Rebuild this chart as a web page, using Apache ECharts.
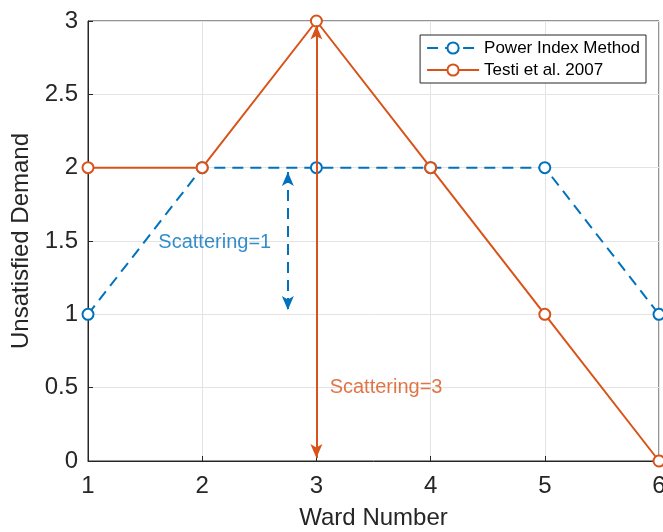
<!DOCTYPE html>
<html><head><meta charset="utf-8">
<script src="https://cdn.jsdelivr.net/npm/echarts@6/dist/echarts.min.js"></script>
<style>html,body{margin:0;padding:0;background:#fff}#c{width:663px;height:532px}</style>
</head><body><div id="c"></div>
<script>
const wards = [1, 2, 3, 4, 5, 6];
const powerIndex = [1, 2, 2, 2, 2, 1];
const testi2007 = [2, 2, 3, 2, 1, 0];
const yTicks = [0, 0.5, 1, 1.5, 2, 2.5, 3];
const arrow1 = [[2.75, 1.97], [2.75, 1.03]];
const arrow3 = [[3, 2.97], [3, 0.02]];
const label1 = {x: 2.11, y: 1.49, text: 'Scattering=1'};
const label3 = {x: 3.61, y: 0.50, text: 'Scattering=3'};

const blue = '#0072BD', orange = '#D95319';
const font = 'Liberation Sans, Arial, sans-serif';
const chart = echarts.init(document.getElementById('c'));
chart.setOption({
  animation: false,
  grid: {left: 88, right: 4, top: 21, bottom: 71, containLabel: false, outerBoundsMode: 'none',
         show: true, borderColor: '#262626', borderWidth: 1},
  legend: {
    right: 17, top: 35, orient: 'vertical', itemWidth: 52, itemHeight: 14, itemGap: 4,
    backgroundColor: '#fff', borderColor: '#262626', borderWidth: 1, padding: [4, 6, 4, 6],
    textStyle: {fontFamily: font, fontSize: 17, color: '#000', lineHeight: 18},
    data: ['Power Index Method', 'Testi et al. 2007']
  },
  xAxis: {
    type: 'value', min: wards[0], max: wards[wards.length - 1], interval: 1,
    name: 'Ward Number', nameLocation: 'middle', nameGap: 45,
    nameTextStyle: {fontFamily: font, fontSize: 24, color: '#262626'},
    axisLine: {show: true, lineStyle: {color: '#262626'}},
    axisTick: {show: true, inside: true, length: 5, lineStyle: {color: '#262626'}},
    axisLabel: {fontFamily: font, fontSize: 24, color: '#262626', margin: 13},
    splitLine: {show: true, lineStyle: {color: '#e3e3e3'}}
  },
  yAxis: {
    type: 'value', min: yTicks[0], max: yTicks[yTicks.length - 1], interval: 0.5,
    name: 'Unsatisfied Demand', nameLocation: 'middle', nameGap: 42,
    nameTextStyle: {fontFamily: font, fontSize: 24, color: '#262626'},
    axisLine: {show: true, lineStyle: {color: '#262626'}},
    axisTick: {show: true, inside: true, length: 5, lineStyle: {color: '#262626'}},
    axisLabel: {fontFamily: font, fontSize: 24, color: '#262626', margin: 10},
    splitLine: {show: true, lineStyle: {color: '#e3e3e3'}}
  },
  series: [
    {
      name: 'Power Index Method', type: 'line',
      data: wards.map((w, i) => [w, powerIndex[i]]),
      symbol: 'emptyCircle', symbolSize: 11, showAllSymbol: true,
      itemStyle: {color: blue, borderWidth: 2},
      lineStyle: {color: blue, width: 2, type: [11, 7]},
      z: 3,
      markLine: {
        silent: true, symbol: ['arrow', 'arrow'], symbolSize: [9, 14],
        lineStyle: {color: blue, width: 2, type: [11, 7]},
        label: {show: false},
        data: [[{coord: arrow1[0]}, {coord: arrow1[1]}]]
      }
    },
    {
      name: 'Testi et al. 2007', type: 'line',
      data: wards.map((w, i) => [w, testi2007[i]]),
      symbol: 'emptyCircle', symbolSize: 11, showAllSymbol: true,
      itemStyle: {color: orange, borderWidth: 2},
      lineStyle: {color: orange, width: 2},
      z: 4,
      markLine: {
        silent: true, symbol: ['arrow', 'arrow'], symbolSize: [9, 14],
        lineStyle: {color: orange, width: 2, type: 'solid'},
        label: {show: false},
        data: [[{coord: arrow3[0]}, {coord: arrow3[1]}]]
      }
    },
    {
      type: 'scatter', silent: true, symbolSize: 0,
      data: [[label1.x, label1.y]],
      label: {show: true, formatter: label1.text, color: blue, fontFamily: font, fontSize: 20, position: 'inside'}
    },
    {
      type: 'scatter', silent: true, symbolSize: 0,
      data: [[label3.x, label3.y]],
      label: {show: true, formatter: label3.text, color: orange, fontFamily: font, fontSize: 20, position: 'inside'}
    }
  ]
});
</script></body></html>
